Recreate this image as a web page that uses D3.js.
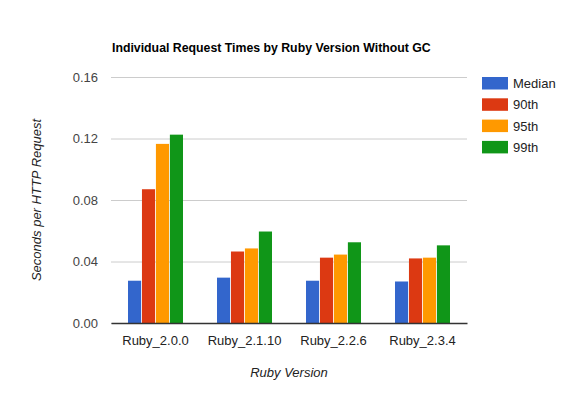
<!DOCTYPE html>
<html>
<head>
<meta charset="utf-8">
<script src="https://cdn.jsdelivr.net/npm/d3@7"></script>
<style>
  body { margin: 0; background: #fff; }
  text { font-family: Arial, "Liberation Sans", sans-serif; }
</style>
</head>
<body>
<div id="chart"></div>
<script>
// values
var versions = ["Ruby_2.0.0", "Ruby_2.1.10", "Ruby_2.2.6", "Ruby_2.3.4"];
var seriesNames = ["Median", "90th", "95th", "99th"];
var median = [0.0275, 0.0295, 0.0275, 0.027];
var p90 = [0.087, 0.0465, 0.0425, 0.042];
var p95 = [0.1165, 0.0485, 0.0445, 0.0425];
var p99 = [0.1225, 0.0595, 0.0525, 0.0505];
var yTicks = [0, 0.04, 0.08, 0.12, 0.16];
var colors = ["#3366cc", "#dc3912", "#ff9900", "#109618"];

var seriesValues = [median, p90, p95, p99];

var width = 580, height = 400;
var margin = { top: 77, right: 113, bottom: 77, left: 111 };
var innerW = width - margin.left - margin.right;
var innerH = height - margin.top - margin.bottom;

var svg = d3.select("#chart").append("svg")
    .attr("width", width)
    .attr("height", height);

var x0 = d3.scaleBand()
    .domain(versions)
    .range([0, innerW]);

var x1 = d3.scaleBand()
    .domain(seriesNames)
    .range([17, x0.bandwidth() - 17])
    .paddingInner(0.06);

var y = d3.scaleLinear()
    .domain([0, 0.16])
    .range([innerH, 0]);

var g = svg.append("g")
    .attr("transform", "translate(" + margin.left + "," + margin.top + ")");

// gridlines
var yAxis = g.append("g")
    .call(d3.axisLeft(y).tickValues(yTicks).tickFormat(d3.format(".2f")).tickSize(-innerW).tickPadding(13));
yAxis.select(".domain").remove();
yAxis.selectAll(".tick line").attr("stroke", "#cccccc");
yAxis.selectAll(".tick text")
    .attr("fill", "#444")
    .style("font-size", "13px");

// bars
var rows = versions.map(function (v, i) {
    return { version: v, vals: seriesNames.map(function (s, j) { return { name: s, value: seriesValues[j][i], idx: j }; }) };
});

g.selectAll(".grp")
    .data(rows)
    .enter().append("g")
    .attr("class", "grp")
    .attr("transform", function (d) { return "translate(" + x0(d.version) + ",0)"; })
    .selectAll("rect")
    .data(function (d) { return d.vals; })
    .enter().append("rect")
    .attr("x", function (d) { return x1(d.name); })
    .attr("y", function (d) { return y(d.value); })
    .attr("width", x1.bandwidth())
    .attr("height", function (d) { return innerH - y(d.value); })
    .attr("fill", function (d) { return colors[d.idx]; });

// x axis
var xAxis = g.append("g")
    .attr("transform", "translate(0," + innerH + ")")
    .call(d3.axisBottom(x0).tickSize(0).tickPadding(13));
xAxis.select(".domain").attr("stroke", "#333").attr("stroke-width", 1.5);
xAxis.selectAll(".tick text")
    .attr("fill", "#222")
    .style("font-size", "13px");

// title
svg.append("text")
    .attr("x", margin.left + 1)
    .attr("y", 52)
    .style("font-size", "12.3px")
    .style("font-weight", "bold")
    .attr("fill", "#000")
    .text("Individual Request Times by Ruby Version Without GC");

// axis titles
svg.append("text")
    .attr("x", margin.left + innerW / 2)
    .attr("y", 377)
    .attr("text-anchor", "middle")
    .style("font-size", "13px")
    .style("font-style", "italic")
    .attr("fill", "#222")
    .text("Ruby Version");

svg.append("text")
    .attr("transform", "translate(41," + (margin.top + innerH / 2) + ") rotate(-90)")
    .attr("text-anchor", "middle")
    .style("font-size", "13px")
    .style("font-style", "italic")
    .attr("fill", "#222")
    .text("Seconds per HTTP Request");

// legend
var legend = svg.append("g")
    .attr("transform", "translate(482,77)");
var item = legend.selectAll(".item")
    .data(seriesNames)
    .enter().append("g")
    .attr("class", "item")
    .attr("transform", function (d, i) { return "translate(0," + (i * 21.3) + ")"; });
item.append("rect")
    .attr("width", 26)
    .attr("height", 12.5)
    .attr("fill", function (d, i) { return colors[i]; });
item.append("text")
    .attr("x", 31)
    .attr("y", 11)
    .style("font-size", "13px")
    .attr("fill", "#222")
    .text(function (d) { return d; });
</script>
</body>
</html>
